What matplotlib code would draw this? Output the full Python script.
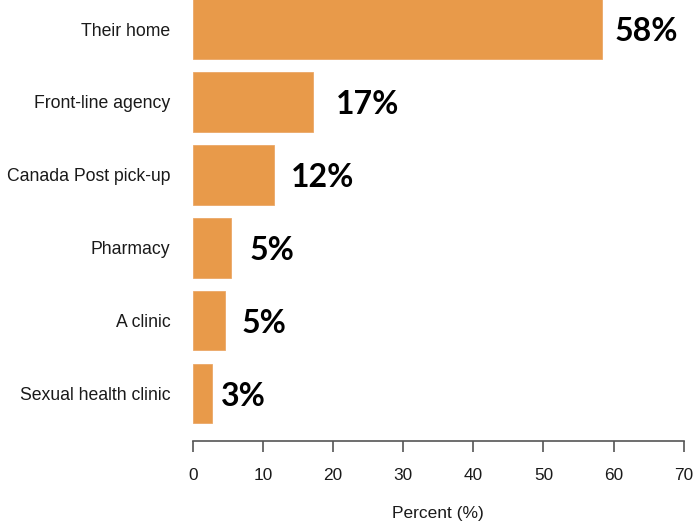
import matplotlib
matplotlib.use("Agg")
import matplotlib.pyplot as plt

# Where participants picked up their kits
locations = ["Their home", "Front-line agency", "Canada Post pick-up",
             "Pharmacy", "A clinic", "Sexual health clinic"]
percent = [58.4, 17.1, 11.6, 5.4, 4.6, 2.7]

# label nudges (points) to the right of each bar end
label_gap = [9, 17, 12, 14, 12, 7]

bar_color = "#E89A4A"

plt.rcParams["font.family"] = ["Liberation Sans", "DejaVu Sans"]

fig = plt.figure(figsize=(6.93, 5.24), dpi=100)
ax = fig.add_axes([0.2781, 0.159, 0.7085, 0.841])

ypos = list(range(len(locations)))
ax.barh(ypos, percent, height=0.82, color=bar_color, edgecolor="#EBA868",
        linewidth=0.6)

for y, v, gap in zip(ypos, percent, label_gap):
    ax.annotate(f"{v:.0f}%", xy=(v, y), xytext=(gap, -2),
                textcoords="offset points", ha="left", va="center",
                fontsize=23, fontweight="bold", family="Lato",
                color="black", annotation_clip=False)

ax.set_xlim(0, 70)
ax.set_ylim(5.648, -0.398)
ax.set_xticks(range(0, 71, 10))
ax.set_yticks(ypos)
ax.set_yticklabels(locations, fontsize=12.7, color="#1a1a1a")
ax.tick_params(axis="y", length=0, pad=16)
ax.tick_params(axis="x", length=8, width=1.2, color="#555555",
               labelsize=12.4, labelcolor="#1a1a1a", pad=11.5)

for side in ["top", "right", "left"]:
    ax.spines[side].set_visible(False)
ax.spines["bottom"].set_color("#555555")
ax.spines["bottom"].set_linewidth(1.2)
ax.spines["bottom"].set_bounds(0, 70)

ax.set_xlabel("Percent (%)", fontsize=12.5, color="#1a1a1a", labelpad=17)

fig.savefig("out.png", dpi=100)
